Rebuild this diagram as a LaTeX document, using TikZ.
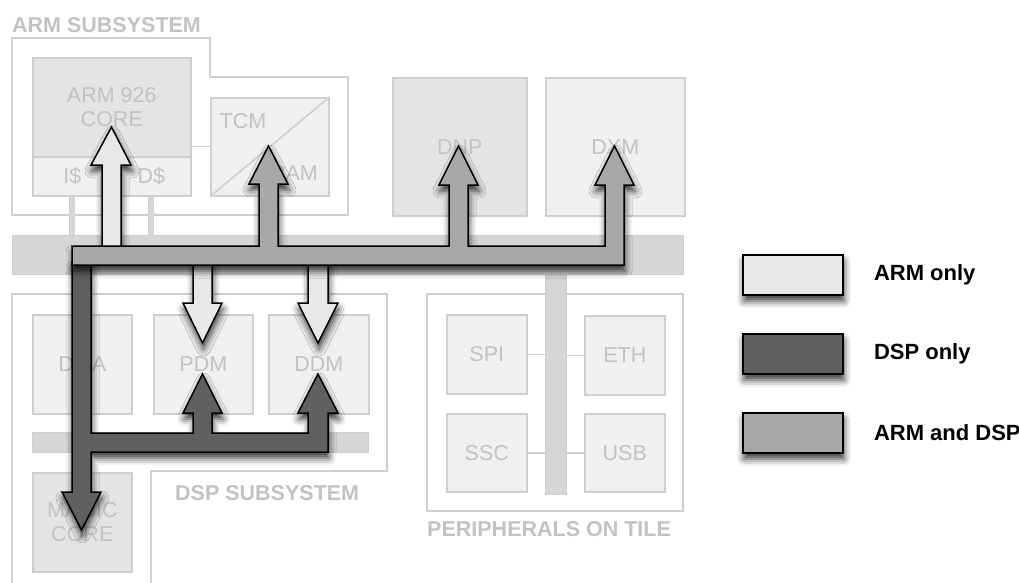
\documentclass[tikz,border=0pt]{standalone}
\usepackage{fontspec}
\setmainfont{Liberation Sans}
\usepackage{xcolor}
\definecolor{unitline}{HTML}{CFCFCF}
\definecolor{unittext}{HTML}{C2C2C2}
\definecolor{unitfill}{HTML}{F0F0F0}
\definecolor{corefill}{HTML}{E4E4E4}
\definecolor{busfill}{HTML}{D6D6D6}
\definecolor{armonly}{HTML}{E8E8E8}
\definecolor{dsponly}{HTML}{606060}
\definecolor{armdsp}{HTML}{A8A8A8}
\usetikzlibrary{positioning,calc,shadows.blur}

\begin{document}
\begin{tikzpicture}[x=1pt, y=-1pt,
  unit/.style={draw=unitline, fill=unitfill, line width=1.6pt, inner sep=0pt,
               anchor=north west, align=center, text=unittext,
               font=\fontsize{21.5}{24}\selectfont},
  unitlabel/.style={text=unittext, inner sep=0pt, font=\fontsize{21.5}{24}\selectfont},
  area/.style={draw=unitline, line width=1.6pt},
  areatitle/.style={text=unittext, inner sep=0pt, anchor=base west,
                    font=\fontsize{21.5}{24}\selectfont\bfseries},
  busbar/.style={draw=unitline, fill=busfill, line width=1.2pt, inner sep=0pt,
                 anchor=north west},
  wire/.style={draw=unitline, line width=1.6pt},
  stub/.style={draw=unitline, line width=0.8pt, double=busfill, double distance=4.5pt},
  flow/.style={draw=black, line width=1.5pt, line join=miter,
               blur shadow={shadow xshift=1pt, shadow yshift=-6pt,
                            shadow blur radius=7pt, shadow opacity=80}},
  armflow/.style={flow, fill=armonly},
  dspflow/.style={flow, fill=dsponly},
  bothflow/.style={flow, fill=armdsp},
  legkey/.style={draw=black, line width=1.8pt, inner sep=0pt, anchor=north west,
                 minimum width=100, minimum height=40,
                 blur shadow={shadow xshift=1pt, shadow yshift=-6pt,
                              shadow blur radius=7pt, shadow opacity=80}},
  legtext/.style={inner sep=0pt, anchor=west, font=\fontsize{22}{24}\selectfont\bfseries}
]
\useasboundingbox (0,0) rectangle (1019,583);

%% subsystem outlines
\draw[area] (12,38) -- (210,38) -- (210,77) -- (348,77) -- (348,215) -- (12,215) -- cycle;
\node[areatitle] (armtitle) at (12,33) {ARM SUBSYSTEM};
\draw[area] (12,583) -- (12,294) -- (387,294) -- (387,471) -- (151,471) -- (151,583);
\node[areatitle] (dsptitle) at (175,500) {DSP SUBSYSTEM};
\draw[area] (427,294) rectangle (683,511);
\node[areatitle] (pertitle) at (427,536) {PERIPHERALS ON TILE};

%% ARM subsystem
\node[unit, fill=corefill, minimum width=158, minimum height=99] (core) at (32,57) {ARM 926\\CORE};
\node[unit, minimum width=79, minimum height=39] (icache) at (32,156) {I\$};
\node[unit, minimum width=79, minimum height=39] (dcache) at (111,156) {D\$};
\node[unit, minimum width=118, minimum height=98] (tcm) at (210,97) {};
\draw[wire] (tcm.south west) -- (tcm.north east);
\node[unitlabel] (tcmtxt) at (243,121) {TCM};
\node[unitlabel] (ramtxt) at (294,173) {RAM};
\draw[wire] ([yshift=11pt]core.south east) -- ([yshift=11pt]core.south east -| tcm.west);

\node[unit, fill=corefill, minimum width=134, minimum height=138] (dnp) at (392,77) {DNP};
\node[unit, minimum width=139, minimum height=138] (dxm) at (545,77) {DXM};

%% buses
\node[busbar, minimum width=671, minimum height=39] (sysbus) at (12,235) {};
\draw[stub] (icache.south) -- (icache.south |- sysbus.north);
\draw[stub] (dcache.south) -- (dcache.south |- sysbus.north);

%% DSP subsystem
\node[unit, minimum width=99, minimum height=99] (dma) at (32,314) {DMA};
\node[unit, minimum width=99, minimum height=99] (pdm) at (153,314) {PDM};
\node[unit, minimum width=100, minimum height=99] (ddm) at (268,314) {DDM};
\node[busbar, minimum width=336, minimum height=20] (dspbus) at (32,432) {};
\node[unit, fill=corefill, minimum width=99, minimum height=99] (magic) at (32,472) {MAGIC\\CORE};

%% peripherals
\node[busbar, minimum width=21, minimum height=220] (pbus) at (545,274) {};
\node[unit, minimum width=80, minimum height=79] (spi) at (446,314) {SPI};
\node[unit, minimum width=80, minimum height=79] (eth) at (584,315) {ETH};
\node[unit, minimum width=80, minimum height=78] (ssc) at (446,413) {SSC};
\node[unit, minimum width=80, minimum height=78] (usb) at (584,413) {USB};
\foreach \n in {spi,ssc}
  \draw[wire] (\n.east) -- (\n.east -| pbus.west);
\foreach \n in {eth,usb}
  \draw[wire] (\n.west) -- (\n.west -| pbus.east);

%% DSP only
\draw[dspflow] (72,262) -- (91,262) -- (91,433) -- (193,433) -- (193,413) -- (183,413)
  -- (202.5,374) -- (222,413) -- (212,413) -- (212,433) -- (308,433) -- (308,413)
  -- (298,413) -- (318,374) -- (338,413) -- (328,413) -- (328,452) -- (91,452)
  -- (91,492) -- (101,492) -- (81.5,530) -- (62,492) -- (72,492) -- cycle;

%% ARM only
\draw[armflow] (102,250) -- (102,165) -- (91,165) -- (111.5,127) -- (131,165)
  -- (121,165) -- (121,250) -- cycle;
\draw[armflow] (193,262) -- (193,303) -- (183,303) -- (202.5,343) -- (222,303)
  -- (212,303) -- (212,262) -- cycle;
\draw[armflow] (308,262) -- (308,303) -- (298,303) -- (318,343) -- (338,303)
  -- (328,303) -- (328,262) -- cycle;

%% ARM and DSP
\draw[bothflow] (72,246) -- (259,246) -- (259,184) -- (249,184) -- (268.5,146)
  -- (288,184) -- (278,184) -- (278,246) -- (449,246) -- (449,185) -- (439,185)
  -- (458.5,146) -- (478,185) -- (468,185) -- (468,246) -- (605,246) -- (605,185)
  -- (595,185) -- (614.5,146) -- (634,185) -- (624,185) -- (624,265) -- (72,265) -- cycle;

%% legend
\node[legkey, fill=armonly] (keyarm) at (742,254) {};
\node[legtext, right=30pt of keyarm] (txtarm) {ARM only};
\node[legkey, fill=dsponly] (keydsp) at (742,333) {};
\node[legtext, right=30pt of keydsp] (txtdsp) {DSP only};
\node[legkey, fill=armdsp] (keyboth) at (742,412) {};
\node[legtext, right=30pt of keyboth] (txtboth) {ARM and DSP};

\end{tikzpicture}
\end{document}
